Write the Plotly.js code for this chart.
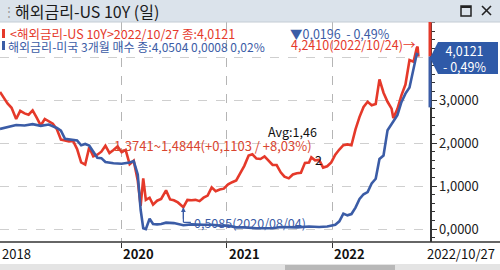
<!DOCTYPE html>
<html><head><meta charset="utf-8">
<script src="https://cdn.plot.ly/plotly-3.0.1.min.js"></script>
<style>html,body{margin:0;padding:0;background:#fff;}#c{width:500px;height:270px;}</style>
</head><body><div id="c"></div>
<script>
// ---- data ----
const dates10 = ['2018-11-08','2018-11-20','2018-12-04','2018-12-18','2019-01-03','2019-01-17','2019-02-01','2019-02-15','2019-03-01','2019-03-15','2019-03-29','2019-04-12','2019-04-26','2019-05-10','2019-05-24','2019-06-07','2019-06-21','2019-07-05','2019-07-19','2019-08-02','2019-08-16','2019-08-30','2019-09-13','2019-09-27','2019-10-11','2019-10-25','2019-11-08','2019-11-22','2019-12-06','2019-12-20','2020-01-03','2020-01-17','2020-01-31','2020-02-14','2020-02-28','2020-03-09','2020-03-18','2020-03-27','2020-04-09','2020-04-21','2020-05-05','2020-05-19','2020-06-05','2020-06-19','2020-07-02','2020-07-16','2020-08-04','2020-08-18','2020-09-01','2020-09-15','2020-09-29','2020-10-13','2020-10-27','2020-11-10','2020-11-24','2020-12-08','2020-12-22','2021-01-06','2021-01-20','2021-02-03','2021-02-17','2021-03-03','2021-03-18','2021-03-31','2021-04-14','2021-04-28','2021-05-12','2021-05-26','2021-06-09','2021-06-23','2021-07-07','2021-07-20','2021-08-04','2021-08-18','2021-09-01','2021-09-15','2021-09-29','2021-10-13','2021-10-21','2021-11-03','2021-11-17','2021-12-01','2021-12-15','2021-12-29','2022-01-12','2022-01-26','2022-02-09','2022-02-23','2022-03-09','2022-03-23','2022-04-06','2022-04-20','2022-05-04','2022-05-18','2022-06-01','2022-06-14','2022-06-28','2022-07-12','2022-07-26','2022-08-01','2022-08-15','2022-08-29','2022-09-12','2022-09-26','2022-10-10','2022-10-21','2022-10-24','2022-10-27'];
const us10y = [3.19,3.06,2.92,2.82,2.56,2.75,2.69,2.66,2.76,2.59,2.41,2.56,2.50,2.45,2.32,2.08,2.06,2.04,2.05,1.86,1.55,1.50,1.90,1.69,1.73,1.80,1.94,1.77,1.84,1.92,1.79,1.84,1.51,1.59,1.13,0.54,1.18,0.68,0.73,0.57,0.66,0.70,0.90,0.69,0.67,0.62,0.51,0.68,0.67,0.68,0.65,0.73,0.78,0.97,0.88,0.92,0.94,1.04,1.09,1.13,1.30,1.47,1.71,1.74,1.64,1.63,1.69,1.58,1.49,1.49,1.32,1.22,1.18,1.27,1.30,1.31,1.54,1.55,1.67,1.60,1.61,1.43,1.46,1.55,1.73,1.85,1.95,1.97,1.95,2.32,2.61,2.84,2.96,2.88,2.91,3.48,3.17,2.96,2.80,2.58,2.79,3.11,3.36,3.93,3.89,4.21,4.24,4.01];
const dates3m = ['2018-11-08','2018-12-04','2018-12-18','2019-01-03','2019-02-01','2019-03-01','2019-03-29','2019-04-26','2019-05-24','2019-06-07','2019-06-21','2019-07-19','2019-08-02','2019-08-16','2019-08-30','2019-09-13','2019-09-27','2019-10-11','2019-10-25','2019-11-08','2019-12-06','2020-01-03','2020-01-31','2020-02-14','2020-02-28','2020-03-09','2020-03-18','2020-03-27','2020-04-09','2020-04-21','2020-05-05','2020-05-19','2020-06-05','2020-07-02','2020-08-04','2020-09-01','2020-10-13','2020-11-10','2020-12-08','2021-01-06','2021-02-03','2021-03-03','2021-04-14','2021-05-12','2021-06-09','2021-07-07','2021-08-04','2021-09-01','2021-10-13','2021-11-17','2021-12-15','2022-01-12','2022-01-26','2022-02-09','2022-02-23','2022-03-09','2022-03-23','2022-04-06','2022-04-20','2022-05-04','2022-05-18','2022-06-01','2022-06-14','2022-06-28','2022-07-12','2022-07-26','2022-08-15','2022-08-29','2022-09-12','2022-09-26','2022-10-10','2022-10-21','2022-10-27'];
const us3m = [2.33,2.37,2.39,2.42,2.41,2.44,2.40,2.43,2.35,2.29,2.10,2.07,2.06,1.95,1.98,1.94,1.80,1.66,1.65,1.56,1.53,1.52,1.55,1.58,1.27,0.45,0.02,0.00,0.24,0.12,0.11,0.12,0.15,0.14,0.09,0.11,0.10,0.10,0.08,0.08,0.04,0.04,0.02,0.02,0.02,0.05,0.05,0.04,0.06,0.05,0.06,0.10,0.18,0.36,0.32,0.35,0.50,0.70,0.81,0.86,1.06,1.17,1.63,1.71,2.30,2.45,2.65,2.95,3.15,3.29,3.73,4.07,4.05];
const yearTickDates = ['2020-01-01','2021-01-01','2022-01-01'];
const yearTickLabels = ['2020','2021','2022'];
const firstDateLabel = '2018';
const lastDateLabel = '2022/10/27';
const yTickVals = [0,1,2,3,4];
const yTickText = ['0,0000','1,0000','2,0000','3,0000',''];
const titleText = '해외금리-US 10Y (일)';
const legend1Name = '<해외금리-US 10Y>2022/10/27 종:4,0121';
const legend1Chg = '▼0,0196  - 0,49%';
const legend2Name = '해외금리-미국 3개월 매수 종:4,0504 0,0008 0,02%';
const lastVal = '4,0121';
const lastPct = '- 0,49%';
const maxDate = '2022-10-24', maxVal = 4.24, maxText = '4,2410(2022/10/24)→';
const minDate = '2020-08-04', minVal = 0.5085, minText = '0,5085(2020/08/04)';
const rangeText = '1,3741~1,4844(+0,1103 / +8,03%)';
const avgText = 'Avg:1,46';

// ---- layout helpers (pixel -> paper) ----
const PL=0, PT=22, PW=430, PH=220;
const X = x => (x-PL)/PW;
const Y = y => (PT+PH-y)/PH;
const RED='#e5392a', BLUE='#3b5ca6';
const FONT='"Noto Sans CJK KR", "Noto Sans", sans-serif';

const traces = [
  {x: dates10, y: us10y, type:'scatter', mode:'lines', line:{color:RED, width:2.6}, hoverinfo:'skip'},
  {x: dates3m, y: us3m, type:'scatter', mode:'lines', line:{color:BLUE, width:2.6}, hoverinfo:'skip'}
];

const shapes = [
  {type:'rect', xref:'paper', yref:'paper', x0:X(0), x1:X(500), y0:Y(22), y1:Y(0), fillcolor:'#dbe3eb', line:{width:0}, layer:'below'},
  {type:'line', xref:'paper', yref:'paper', x0:X(0), x1:X(500), y0:Y(22), y1:Y(22), line:{color:'#c4ccd4', width:1}},
  {type:'rect', xref:'paper', yref:'paper', x0:X(461), x1:X(471), y0:Y(16), y1:Y(6), line:{color:'#222', width:1.5}},
  {type:'line', xref:'paper', yref:'paper', x0:X(461), x1:X(471), y0:Y(7), y1:Y(7), line:{color:'#222', width:2}},
  {type:'line', xref:'paper', yref:'paper', x0:X(482), x1:X(491), y0:Y(6), y1:Y(15), line:{color:'#222', width:1.6}},
  {type:'line', xref:'paper', yref:'paper', x0:X(491), x1:X(482), y0:Y(6), y1:Y(15), line:{color:'#222', width:1.6}},
  {type:'rect', xref:'paper', yref:'paper', x0:X(2), x1:X(5), y0:Y(38), y1:Y(29), fillcolor:RED, line:{width:0}},
  {type:'rect', xref:'paper', yref:'paper', x0:X(2), x1:X(5), y0:Y(50), y1:Y(41), fillcolor:BLUE, line:{width:0}},
  {type:'line', xref:'paper', yref:'paper', x0:X(0), x1:X(500), y0:Y(242), y1:Y(242), line:{color:'#333', width:1.5}},
  {type:'line', xref:'paper', yref:'y', x0:X(430), x1:X(430), y0:4.0121, y1:4.82, line:{color:RED, width:3}},
  {type:'line', xref:'paper', yref:'y', x0:X(430), x1:X(430), y0:2.83, y1:4.0121, line:{color:BLUE, width:3}},
  {type:'rect', xref:'paper', yref:'paper', x0:X(0), x1:X(500), y0:Y(270), y1:Y(264), fillcolor:'#e4e4e4', line:{width:0}},
  {type:'rect', xref:'paper', yref:'paper', x0:X(285), x1:X(395), y0:Y(270), y1:Y(265), fillcolor:'#b8b8b8', line:{width:0}},
  {type:'line', xref:'x', yref:'y', x0:minDate, x1:minDate, y0:minVal-0.02, y1:minVal-0.35, line:{color:BLUE, width:1.2}},
];
shapes.push({type:'path', xref:'paper', yref:'paper',
  path:`M ${X(430)} ${Y(58)} L ${X(438)} ${Y(42)} L ${X(498)} ${Y(42)} L ${X(498)} ${Y(74)} L ${X(438)} ${Y(74)} Z`,
  fillcolor:'#2f5aa8', line:{width:0}});

const ann = [];
const T = (text, x, y, opt={}) => ann.push(Object.assign({text, xref:'paper', yref:'paper', x:X(x), y:Y(y), showarrow:false, xanchor:'left', yanchor:'middle', font:{family:FONT, size:12, color:'#222'}}, opt));
T(titleText, 13, 11, {font:{family:FONT, size:16, color:'#1a1a1a'}});
T('⋮', 1, 11, {font:{family:FONT, size:12, color:'#999'}});
T(legend1Name, 8, 33, {font:{family:FONT, size:12.5, color:RED}});
T(legend1Chg, 288, 33, {font:{family:FONT, size:12.5, color:BLUE}});
T(legend2Name, 6, 46, {font:{family:FONT, size:12, color:BLUE}});
T(lastVal + '<br>' + lastPct, 464, 58, {xanchor:'center', align:'center', font:{family:FONT, size:12.5, color:'#fff'}});
T(rangeText, 112, 145, {font:{family:FONT, size:13, color:'#d9452f'}});
T(avgText, 266, 131, {font:{family:FONT, size:12.5, color:'#111'}});
T('2', 313, 160, {font:{family:FONT, size:12.5, color:'#111'}});
T(firstDateLabel, 0, 254, {font:{family:FONT, size:13, color:'#111'}});
T(lastDateLabel, 497, 254, {xanchor:'right', font:{family:FONT, size:13, color:'#111'}});
yearTickDates.forEach((d,i)=>ann.push({text:'<b>'+yearTickLabels[i]+'</b>', xref:'x', yref:'paper', x:d, y:Y(254), showarrow:false, xanchor:'left', yanchor:'middle', font:{family:FONT, size:13, color:'#111'}}));
ann.push({text:maxText, xref:'x', yref:'y', x:maxDate, y:maxVal, showarrow:false, xanchor:'right', yanchor:'middle', xshift:0, yshift:2, font:{family:FONT, size:12.5, color:RED}});
ann.push({text:'', xref:'x', yref:'y', x:minDate, y:minVal, showarrow:true, arrowhead:2, arrowsize:0.8, arrowwidth:1.2, arrowcolor:BLUE, ax:0, ay:13});
ann.push({text:'', xref:'x', yref:'y', x:minDate, y:minVal-0.35, showarrow:true, arrowhead:0, arrowwidth:1.2, arrowcolor:BLUE, ax:9, ay:0});
ann.push({text:minText, xref:'x', yref:'y', x:minDate, y:minVal-0.35, showarrow:false, xanchor:'left', yanchor:'middle', xshift:9, font:{family:FONT, size:12.5, color:BLUE}});

const layout = {
  width:500, height:270,
  margin:{l:PL, r:500-PL-PW, t:PT, b:270-PT-PH, pad:0},
  paper_bgcolor:'#fff', plot_bgcolor:'#fff',
  showlegend:false,
  xaxis:{type:'date', range:['2018-11-08','2022-12-06'], tickvals:yearTickDates, showticklabels:false,
    showgrid:true, gridcolor:'#b5b5b5', griddash:'dash', gridwidth:1, ticks:'outside', ticklen:5, tickcolor:'#333',
    showline:false, zeroline:false, fixedrange:true},
  yaxis:{side:'right', range:[-0.30, 4.815], tickvals:yTickVals, ticktext:yTickText,
    showgrid:true, gridcolor:'#cfcfcf', griddash:'dash', gridwidth:1,
    ticks:'outside', ticklen:5, tickcolor:'#333', tickwidth:1,
    minor:{dtick:0.2, tick0:0, ticks:'outside', ticklen:3, tickcolor:'#333', showgrid:false},
    showline:true, linecolor:'#333', linewidth:1.5, zeroline:false,
    tickfont:{family:FONT, size:13, color:'#222'}, fixedrange:true},
  shapes, annotations:ann
};
Plotly.newPlot('c', traces, layout, {displayModeBar:false, staticPlot:true});
</script></body></html>
